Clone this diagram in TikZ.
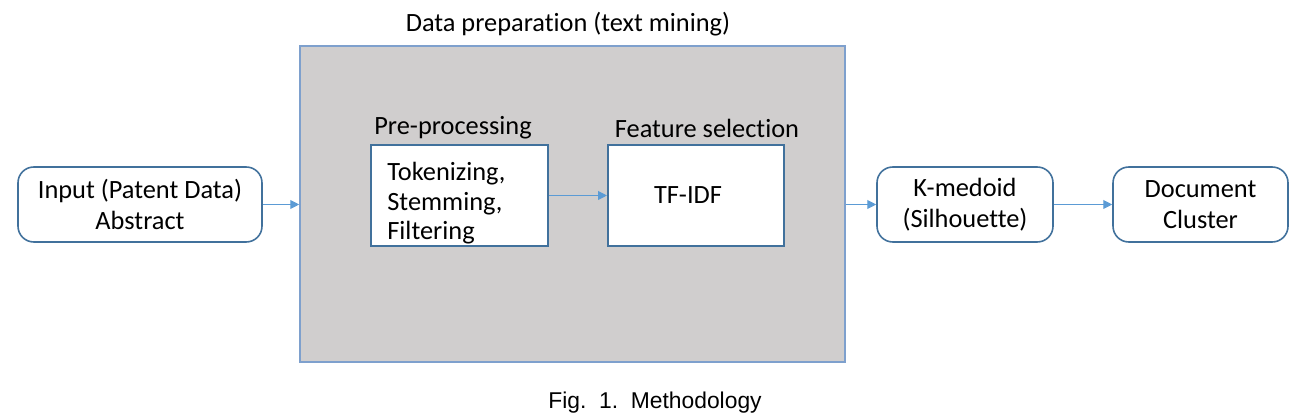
\documentclass[tikz,border=0pt]{standalone}
\usepackage{fontspec}
\setmainfont{Carlito}[Ligatures={NoCommon}]
\newfontfamily\capfont{Liberation Sans}
\definecolor{boxblue}{RGB}{65, 113, 156}
\definecolor{frameblue}{RGB}{126, 160, 205}
\definecolor{arrowblue}{RGB}{91, 155, 213}
\definecolor{prepgray}{RGB}{208, 206, 206}
\usetikzlibrary{arrows.meta, positioning}

\begin{document}
\begin{tikzpicture}[
    roundbox/.style={draw=boxblue, line width=0.9pt, rounded corners=9pt, fill=white, align=center,
      minimum height=1.5cm, font=\fontsize{15}{17.6}\selectfont},
    squarebox/.style={draw=boxblue, line width=0.9pt, fill=white, minimum width=3.53cm,
      minimum height=2.02cm},
    flow/.style={-{Triangle[length=5pt, width=5pt]}, arrowblue, line width=0.6pt},
    label15/.style={font=\fontsize{15}{17}\selectfont}
  ]
  \useasboundingbox (0, 0) rectangle (26.18, 8.4);

  % ===== Data preparation frame =====
  \node[draw=frameblue, line width=0.9pt, fill=prepgray, minimum width=10.9cm, minimum height=6.32cm] (prep) at (11.45, 4.32) {};
  \node[label15] (preptitle) at (11.36, 7.92) {Data preparation (text mining)};

  % Pre-processing
  \node[label15] (prelabel) at (9.06, 5.84) {Pre-processing};
  \node[squarebox] (pre) at (9.19, 4.49) {};
  \node[font=\fontsize{15}{17}\selectfont, align=left, anchor=base west, inner sep=0pt] (pretext) at (7.74, 3.60)
    {Tokenizing,\\ Stemming,\\ Filtering};

  % Feature selection
  \node[label15] (featlabel) at (14.14, 5.84) {Feature selection};
  \node[squarebox] (feat) at (13.92, 4.49) {};
  \node[label15] (tfidf) at (13.76, 4.50) {TF-IDF};

  % ===== Outer steps =====
  \node[roundbox, minimum width=4.88cm] (input) at (2.80, 4.31) {Input (Patent Data)\\ Abstract};
  \node[roundbox, minimum width=3.52cm] (kmed) at (19.30, 4.31) {K-medoid\\ (Silhouette)};
  \node[roundbox, minimum width=3.5cm] (doc) at (24.01, 4.31) {Document\\ Cluster};

  % Connectors
  \draw[flow] (input) -- (prep.west |- input);
  \draw[flow] (pre) -- (feat);
  \draw[flow] (prep.east |- kmed) -- (kmed);
  \draw[flow] (kmed) -- (doc);

  % Caption
  \node[font=\capfont\fontsize{13}{15}\selectfont] (caption) at (13.10, 0.34) {Fig.~~1.~~Methodology};
\end{tikzpicture}
\end{document}
